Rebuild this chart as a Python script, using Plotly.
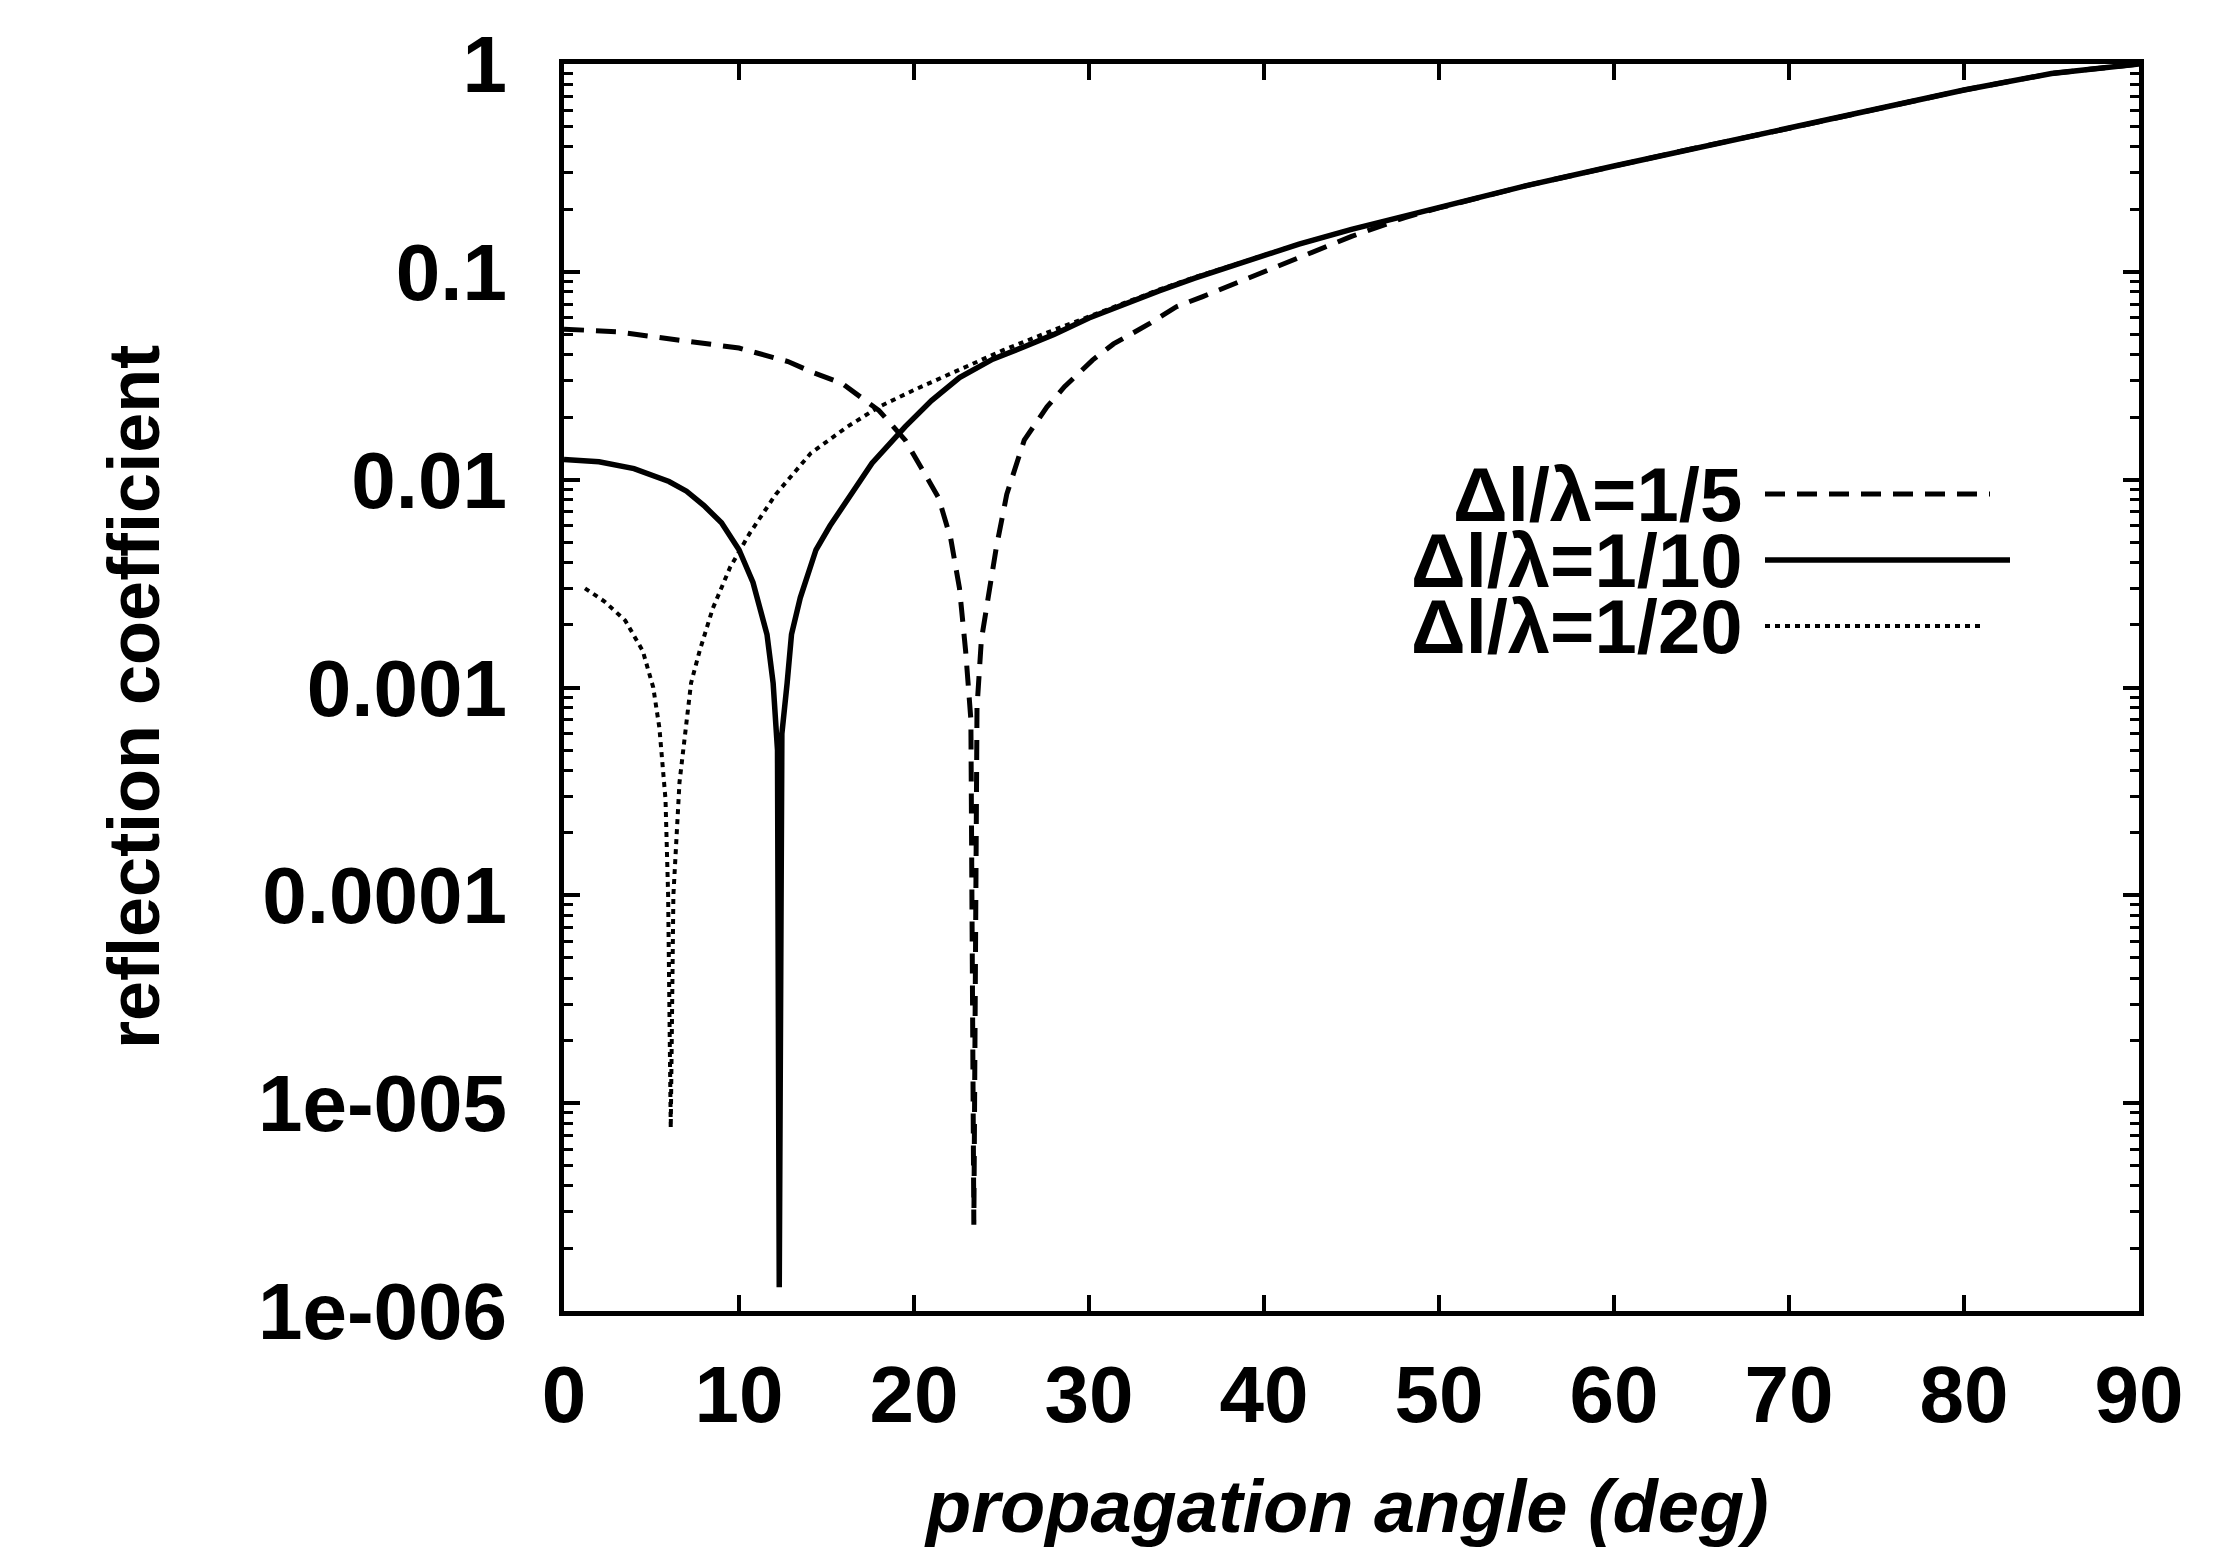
import plotly.graph_objects as go

# Reflection coefficient versus propagation angle for three grid spacings

# dl/lambda = 1/5  (dashed)
angle_5 = [0, 3, 6.5, 10, 12.8, 14.3, 15.9, 17.0, 18.0, 19.5, 20.5, 21.4, 22.1, 22.6,
           22.95, 23.25, 23.42, 23.6, 23.85, 24.25, 24.7, 25.3, 26.3, 27.6, 28.6, 30.2,
           31.4, 33.5, 35.0, 36.5, 37.6, 40, 42, 45, 48, 50, 55, 60, 65, 70, 75, 80, 85, 90]
refl_5 = [0.053, 0.0515, 0.047, 0.043, 0.037, 0.0326, 0.029, 0.025, 0.0215, 0.0155, 0.011,
          0.0082, 0.0052, 0.0030, 0.0015, 0.0007, 2.6e-6, 0.0008, 0.0017, 0.0027, 0.0047,
          0.0085, 0.0155, 0.0224, 0.028, 0.0376, 0.045, 0.0566, 0.068, 0.076, 0.083, 0.100,
          0.118, 0.148, 0.182, 0.203, 0.26, 0.323, 0.40, 0.49, 0.61, 0.75, 0.90, 1.0]

# dl/lambda = 1/10  (solid)
angle_10 = [0, 2, 4, 6, 7, 8, 9, 10, 10.8, 11.6, 11.95, 12.2, 12.3, 12.45, 12.75, 13.0,
            13.5, 14.4, 15.2, 16.2, 17.6, 19.5, 21, 22.6, 24.5, 26.3, 28, 30, 32, 34, 36,
            38, 40, 42, 45, 50, 55, 60, 65, 70, 75, 80, 85, 90]
refl_10 = [0.0125, 0.0122, 0.0113, 0.0098, 0.0088, 0.0075, 0.0062, 0.0046, 0.0032, 0.0018,
           0.00105, 0.0005, 1.3e-6, 0.0006, 0.00105, 0.0018, 0.0027, 0.0046, 0.006, 0.008,
           0.012, 0.018, 0.024, 0.031, 0.038, 0.0436, 0.050, 0.060, 0.070, 0.081, 0.093,
           0.106, 0.120, 0.136, 0.160, 0.203, 0.26, 0.323, 0.40, 0.49, 0.61, 0.75, 0.90, 1.0]

# dl/lambda = 1/20  (dotted)
angle_20 = [1.2, 2.3, 3.5, 4.5, 5.1, 5.45, 5.8, 5.95, 6.1, 6.25, 6.6, 6.9, 7.26, 7.75, 8.5,
            9.5, 10.6, 12.1, 14.1, 16.2, 18, 20, 22.6, 25.1, 27.6, 30, 32, 34, 36, 38, 40,
            42, 45, 50, 55, 60, 65, 70, 75, 80, 85, 90]
refl_20 = [0.003, 0.0026, 0.0021, 0.0015, 0.0010, 0.00064, 0.00029, 0.0001, 7.6e-6, 0.0001,
           0.00035, 0.0006, 0.00105, 0.0015, 0.0024, 0.0038, 0.0055, 0.0085, 0.0134, 0.018,
           0.0224, 0.027, 0.034, 0.042, 0.051, 0.061, 0.071, 0.082, 0.094, 0.106, 0.120,
           0.136, 0.160, 0.203, 0.26, 0.323, 0.40, 0.49, 0.61, 0.75, 0.90, 1.0]

series_labels = ["\u0394l/\u03bb=1/5", "\u0394l/\u03bb=1/10", "\u0394l/\u03bb=1/20"]

x_ticks = [0, 10, 20, 30, 40, 50, 60, 70, 80, 90]
y_ticks = [1, 0.1, 0.01, 0.001, 0.0001, 1e-5, 1e-6]
y_tick_text = ["1", "0.1", "0.01", "0.001", "0.0001", "1e-005", "1e-006"]
y_minor = [m * 10.0 ** e for e in range(-6, 0) for m in range(2, 10)]

FONT = "Liberation Sans, Arial, Helvetica, sans-serif"
styles = [
    dict(width=5, dash="20px,12px"),
    dict(width=5.5, dash="solid"),
    dict(width=4, dash="5px,5px"),
]

fig = go.Figure()
for xs, ys, name, st in zip([angle_5, angle_10, angle_20], [refl_5, refl_10, refl_20],
                            series_labels, styles):
    fig.add_trace(go.Scatter(x=xs, y=ys, mode="lines", name=name, showlegend=False,
                             line=dict(color="black", width=st["width"], dash=st["dash"])))

# hand-placed key: right-aligned label followed by the line sample
L, R, T, B = 564, 98, 64, 249
W, H = 2237, 1560
pw, ph = W - L - R, H - T - B


def px(x):
    return (x - L) / pw


def py(y):
    return (H - B - y) / ph


key_rows = [494, 560, 626]
key_ends = [1990, 2010, 1980]
for name, st, ry, xe in zip(series_labels, styles, key_rows, key_ends):
    fig.add_annotation(x=px(1743), y=py(ry), xref="paper", yref="paper", text=name,
                       showarrow=False, xanchor="right", yanchor="middle", borderpad=0,
                       font=dict(family=FONT, size=76, color="black", weight="bold"))
    fig.add_shape(type="line", xref="paper", yref="paper",
                  x0=px(1765), x1=px(xe), y0=py(ry), y1=py(ry),
                  line=dict(color="black", width=st["width"], dash=st["dash"]))

fig.add_annotation(x=px(1346), y=py(1506), xref="paper", yref="paper",
                   text="<i>propagation angle (deg)</i>", showarrow=False,
                   xanchor="center", yanchor="middle",
                   font=dict(family=FONT, size=74, color="black", weight="bold"))
fig.add_annotation(x=px(134), y=py(697), xref="paper", yref="paper",
                   text="reflection coefficient", showarrow=False, textangle=-90,
                   xanchor="center", yanchor="middle",
                   font=dict(family=FONT, size=72, color="black", weight="bold"))

axis_common = dict(showline=True, linewidth=5, linecolor="black", mirror="ticks",
                   ticks="inside", ticklen=16, tickwidth=4, tickcolor="black",
                   showgrid=False, zeroline=False,
                   tickfont=dict(family=FONT, size=80, color="black", weight="bold"))

fig.update_xaxes(range=[0, 90], tickmode="array", tickvals=x_ticks,
                 ticktext=[str(v) for v in x_ticks], ticklabelstandoff=10, **axis_common)
fig.update_yaxes(type="log", range=[-6, 0], tickmode="array", tickvals=y_ticks,
                 ticktext=y_tick_text, ticklabelstandoff=36,
                 minor=dict(tickmode="array", tickvals=y_minor, ticks="inside",
                            ticklen=9, tickwidth=3, tickcolor="black", showgrid=False),
                 **axis_common)

fig.update_layout(width=W, height=H, margin=dict(l=L, r=R, t=T, b=B, pad=0),
                  paper_bgcolor="white", plot_bgcolor="white", showlegend=False)

fig.write_html("out.html")
